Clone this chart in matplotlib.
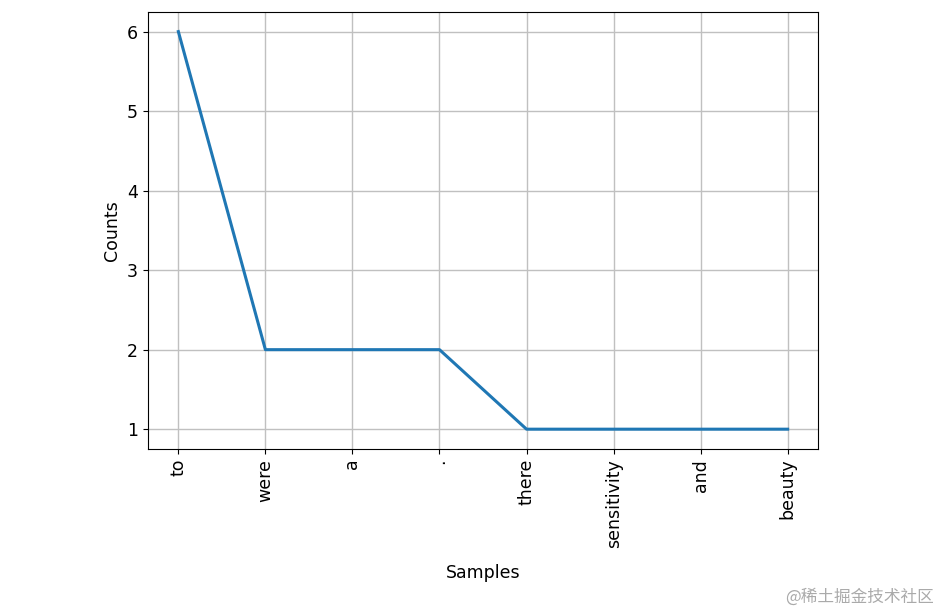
import matplotlib
matplotlib.use("Agg")
import matplotlib.pyplot as plt

samples = ["to", "were", "a", ".", "there", "sensitivity", "and", "beauty"]
counts = [6, 2, 2, 2, 1, 1, 1, 1]

plt.rcParams['font.family'] = ['DejaVu Sans', 'Noto Sans CJK SC']
fig = plt.figure(figsize=(9.48, 6.16), dpi=100)
ax = fig.add_axes([0.156, 0.271, 0.707, 0.71])
ax.plot(range(len(samples)), counts, color="#1f77b4", linewidth=2.2)
ax.grid(True, color="#c0c0c0", linewidth=1)
ax.set_xticks(range(len(samples)))
ax.set_xticklabels(samples, rotation=90, fontsize=12.5)
ax.tick_params(axis='y', labelsize=12.5)
ax.set_xlabel("Samples", fontsize=12.5, labelpad=12)
ax.set_ylabel("Counts", fontsize=12.5)
fig.text(0.985, 0.03, "@稀土掘金技术社区", ha="right", va="center", fontsize=12,
         color="#aaaaaa", family=['Noto Sans CJK SC', 'DejaVu Sans'])
fig.savefig("out.png", dpi=100)
